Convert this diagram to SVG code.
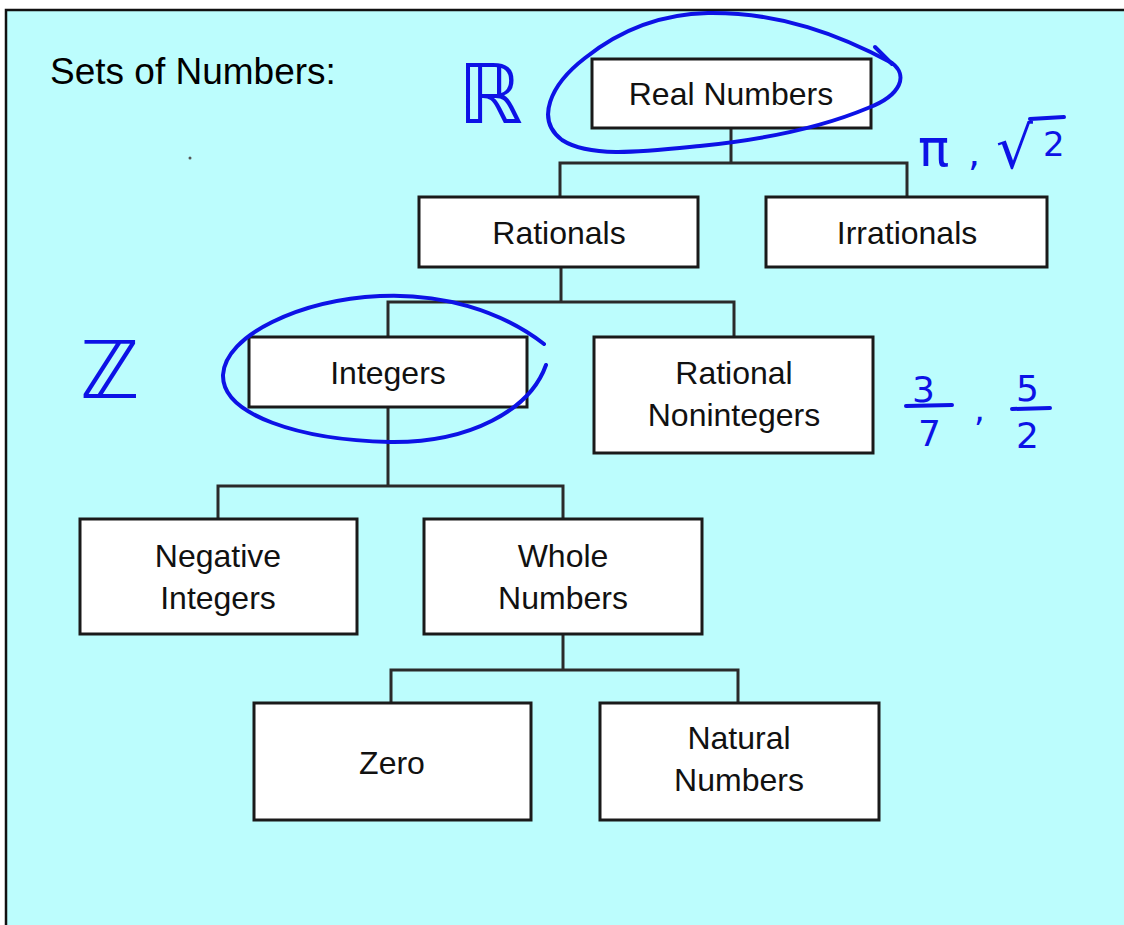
<svg xmlns="http://www.w3.org/2000/svg" width="1124" height="925" viewBox="0 0 1124 925">
  <style>
    .box { fill: #ffffff; stroke: #1a1a1a; stroke-width: 3; }
    .lbl { font-family: "Liberation Sans", Arial, sans-serif; font-size: 32px; fill: #111; text-anchor: middle; }
    .conn { fill: none; stroke: #2a2a2a; stroke-width: 3; stroke-linejoin: miter; }
    .ink { fill: none; stroke: #0d12e6; stroke-width: 4; stroke-linecap: round; stroke-linejoin: round; }
    .inktxt { font-family: "DejaVu Sans", sans-serif; fill: #0d12e6; }
  </style>
  <rect x="0" y="0" width="1124" height="925" fill="#ffffff"/>
  <rect x="6" y="10" width="1130" height="930" fill="#bcfdfd" stroke="#111" stroke-width="2.5"/>
  <text x="50" y="84" font-family="Liberation Sans, Arial, sans-serif" font-size="37" fill="#000">Sets of Numbers:</text>
  <circle cx="190" cy="158" r="1.5" fill="#555"/>

  <g id="connectors">
    <polyline class="conn" points="731,128 731,163"/>
    <polyline class="conn" points="560,197 560,163 907,163 907,197"/>
    <polyline class="conn" points="561,267 561,302"/>
    <polyline class="conn" points="388,337 388,302 734,302 734,337"/>
    <polyline class="conn" points="388,407 388,486"/>
    <polyline class="conn" points="218,519 218,486 563,486 563,519"/>
    <polyline class="conn" points="563,635 563,670"/>
    <polyline class="conn" points="391,703 391,670 738,670 738,703"/>
  </g>

  <g id="real">
    <rect class="box" x="592" y="59" width="279" height="69"/>
    <text class="lbl" x="731" y="105">Real Numbers</text>
  </g>
  <g id="rationals">
    <rect class="box" x="419" y="197" width="279" height="70"/>
    <text class="lbl" x="559" y="244">Rationals</text>
  </g>
  <g id="irrationals">
    <rect class="box" x="766" y="197" width="281" height="70"/>
    <text class="lbl" x="907" y="244">Irrationals</text>
  </g>
  <g id="integers">
    <rect class="box" x="249" y="337" width="278" height="70"/>
    <text class="lbl" x="388" y="384">Integers</text>
  </g>
  <g id="rational-nonintegers">
    <rect class="box" x="594" y="337" width="279" height="116"/>
    <text class="lbl" x="734" y="384">Rational</text>
    <text class="lbl" x="734" y="426">Nonintegers</text>
  </g>
  <g id="negative-integers">
    <rect class="box" x="80" y="519" width="277" height="115"/>
    <text class="lbl" x="218" y="567">Negative</text>
    <text class="lbl" x="218" y="609">Integers</text>
  </g>
  <g id="whole-numbers">
    <rect class="box" x="424" y="519" width="278" height="115"/>
    <text class="lbl" x="563" y="567">Whole</text>
    <text class="lbl" x="563" y="609">Numbers</text>
  </g>
  <g id="zero">
    <rect class="box" x="254" y="703" width="277" height="117"/>
    <text class="lbl" x="392" y="774">Zero</text>
  </g>
  <g id="natural-numbers">
    <rect class="box" x="600" y="703" width="279" height="117"/>
    <text class="lbl" x="739" y="749">Natural</text>
    <text class="lbl" x="739" y="791">Numbers</text>
  </g>

  <g id="annotations">
    <path class="ink" d="M708,13 C780,12 840,35 892,63 C908,75 902,95 868,108 C820,128 760,140 700,146 C640,152 590,158 562,140 C535,120 550,85 585,58 C620,30 660,14 708,13"/>
    <path class="ink" d="M875,47 L892,64"/>
    <path class="ink" d="M544,344 C500,310 440,293 380,296 C300,300 225,335 223,375 C222,415 300,440 390,442 C470,443 530,410 546,365"/>
    <text class="inktxt" x="458" y="123" font-size="82">ℝ</text>
    <text class="inktxt" x="80" y="398" font-size="80">ℤ</text>
    <text class="inktxt" x="918" y="166" font-size="52">π</text>
    <text class="inktxt" x="968" y="166" font-size="38">,</text>
    <text class="inktxt" x="996" y="168" font-size="58">√</text>
    <path class="ink" d="M1030,119 L1064,117"/>
    <text class="inktxt" x="1043" y="156" font-size="34">2</text>
    <text class="inktxt" x="912" y="402" font-size="36">3</text>
    <path class="ink" d="M906,406 L952,405"/>
    <text class="inktxt" x="918" y="446" font-size="36">7</text>
    <text class="inktxt" x="974" y="421" font-size="34">,</text>
    <text class="inktxt" x="1016" y="401" font-size="36">5</text>
    <path class="ink" d="M1012,409 L1050,408"/>
    <text class="inktxt" x="1016" y="448" font-size="36">2</text>
  </g>
</svg>
